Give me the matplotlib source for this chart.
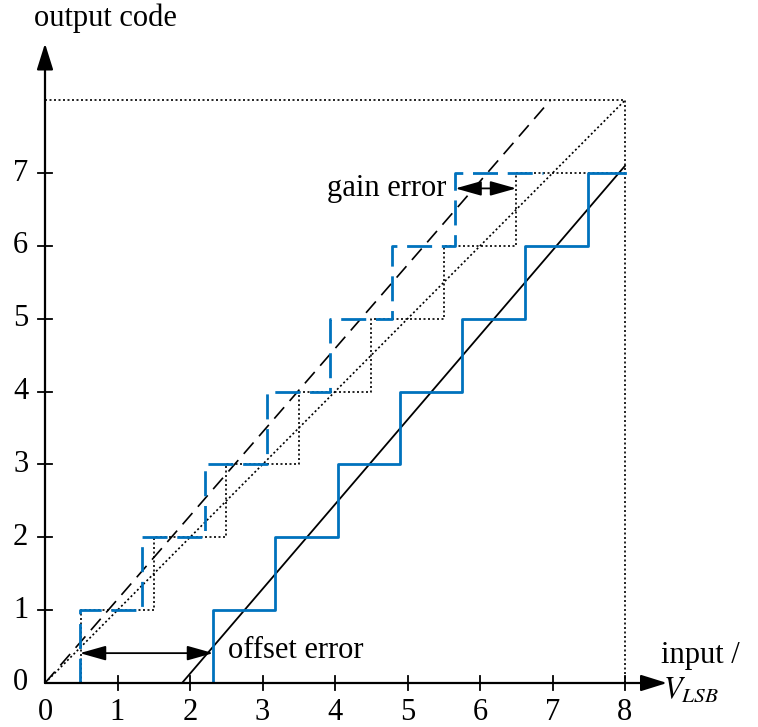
import numpy as np
from matplotlib import pyplot as plt

# transition points (input in LSB)
codes = [0, 1, 2, 3, 4, 5, 6, 7]
ideal_edges = [0.5, 1.5, 2.5, 3.5, 4.5, 5.5, 6.5]
ideal_end = 8.0
gain_edges = [0.48, 1.34, 2.2, 3.06, 3.93, 4.79, 5.66]
gain_end = 6.87
offset_edges = [2.32, 3.17, 4.04, 4.9, 5.75, 6.62, 7.49]
offset_end = 8.0

ideal_line = ([0, 8], [0, 8])
gain_line = ([0, 6.97], [0, 8.0])
offset_line = ([1.89, 8], [0, 7.1])

x_ticks = [0, 1, 2, 3, 4, 5, 6, 7, 8]
y_ticks = [1, 2, 3, 4, 5, 6, 7]

blue = '#0072bd'
fs = 22

plt.rcParams['font.family'] = ['Liberation Serif', 'DejaVu Serif']
plt.rcParams['mathtext.fontset'] = 'stix'

fig = plt.figure(figsize=(7.58, 7.27), dpi=100)
ax = fig.add_axes([45/758, 44/727, 623.5/758, 641/727])
ax.set_xlim(0, 8.6)
ax.set_ylim(0, 8.8)
ax.axis('off')

def stair(edges, end):
    xs = [0] + list(edges) + [end]
    ys = list(codes) + [codes[-1]]
    return xs, ys

# full scale box
ax.plot([0, 8, 8], [8, 8, 0], color='k', ls=(0, (1.2, 1.5)), lw=1.2)

# ideal transfer
ax.plot(*ideal_line, color='k', ls=(0, (1.2, 1.5)), lw=1.2)
xs, ys = stair(ideal_edges, ideal_end)
ax.step(xs, ys, where='post', color='k', ls=(0, (1.2, 1.5)), lw=1.2)

# gain error
ax.plot(*gain_line, color='k', ls=(0, (9, 5)), lw=1.2)
xs, ys = stair(gain_edges, gain_end)
ax.step(xs, ys, where='post', color=blue, ls=(0, (9, 3.5)), lw=2)

# offset error
ax.plot(*offset_line, '-k', lw=1.3)
xs, ys = stair(offset_edges, offset_end)
ax.step(xs, ys, where='post', color=blue, lw=2)

# axes with arrows
arr = dict(arrowstyle='-|>,head_length=1.6,head_width=0.5', color='k', lw=1.6,
           shrinkA=0, shrinkB=0, mutation_scale=10)
ax.annotate('', xy=(8.58, 0), xytext=(0, 0), arrowprops=arr)
ax.annotate('', xy=(0, 8.78), xytext=(0, 0), arrowprops=arr)

# ticks crossing the axes
for t in x_ticks[1:]:
    ax.plot([t, t], [-0.1, 0.1], '-k', lw=1.3, clip_on=False)
for t in y_ticks:
    ax.plot([-0.1, 0.1], [t, t], '-k', lw=1.3, clip_on=False)
for t in x_ticks:
    ax.text(t, -0.4, str(t), ha='center', va='center', fontsize=fs)
for t in [0] + y_ticks:
    ax.text(-0.23, t, str(t), ha='right', va='center', fontsize=fs)

# error annotations
dbl = dict(arrowstyle='<|-|>,head_length=1.6,head_width=0.45', color='k', lw=1.3,
           shrinkA=0, shrinkB=0, mutation_scale=10)
ax.annotate('', xy=(gain_edges[0], 0.41), xytext=(offset_edges[0], 0.41), arrowprops=dbl)
ax.annotate('', xy=(gain_edges[-1], 6.79), xytext=(ideal_edges[-1], 6.79), arrowprops=dbl)
ax.text(2.52, 0.45, 'offset error', ha='left', va='center', fontsize=fs)
ax.text(5.53, 6.79, 'gain error', ha='right', va='center', fontsize=fs)

# axis labels
ax.text(0.83, 9.13, 'output code', ha='center', va='center', fontsize=fs, clip_on=False)
ax.text(8.5, 0.38, 'input /', ha='left', va='center', fontsize=fs, clip_on=False)
ax.text(8.52, -0.1, '$V_{LSB}$', ha='left', va='center', fontsize=fs, clip_on=False)

plt.savefig('out.png', dpi=100)
plt.close(fig)
